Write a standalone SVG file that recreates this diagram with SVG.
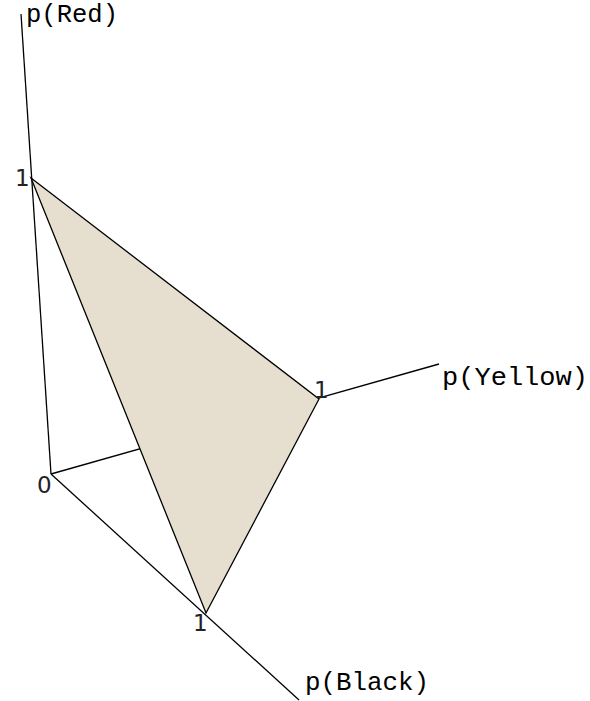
<svg xmlns="http://www.w3.org/2000/svg" width="590" height="701" viewBox="0 0 590 701">
<style>
.ax{stroke:#000;stroke-width:1.3;fill:none}
.lbl{font-family:"Liberation Mono","Courier New",monospace;font-size:25px;fill:#000}
.num{font-family:"DejaVu Sans","Noto Sans",sans-serif;font-size:23px;fill:#222}
.face{fill:#e6dece;stroke:#000;stroke-width:1.3;stroke-linejoin:miter}
</style>
<rect width="590" height="701" fill="#fff"/>
<g id="connectors">
<line class="ax" x1="51" y1="474" x2="21" y2="14"/>
<line class="ax" x1="51" y1="474" x2="439" y2="364"/>
<line class="ax" x1="51" y1="474" x2="299" y2="700"/>
</g>
<g id="simplex">
<polygon class="face" points="31,178 319,399 206,613"/>
</g>
<g id="axis-red">
<text class="lbl" x="26" y="22" textLength="92" lengthAdjust="spacingAndGlyphs">p(Red)</text>
<text class="num" x="15" y="186">1</text>
</g>
<g id="axis-yellow">
<text class="lbl" x="442" y="385" textLength="146" lengthAdjust="spacingAndGlyphs">p(Yellow)</text>
<text class="num" x="314" y="398">1</text>
</g>
<g id="axis-black">
<text class="lbl" x="305" y="690" textLength="124" lengthAdjust="spacingAndGlyphs">p(Black)</text>
<text class="num" x="193" y="631">1</text>
</g>
<g id="origin">
<text class="num" x="37" y="493">0</text>
</g>
</svg>
